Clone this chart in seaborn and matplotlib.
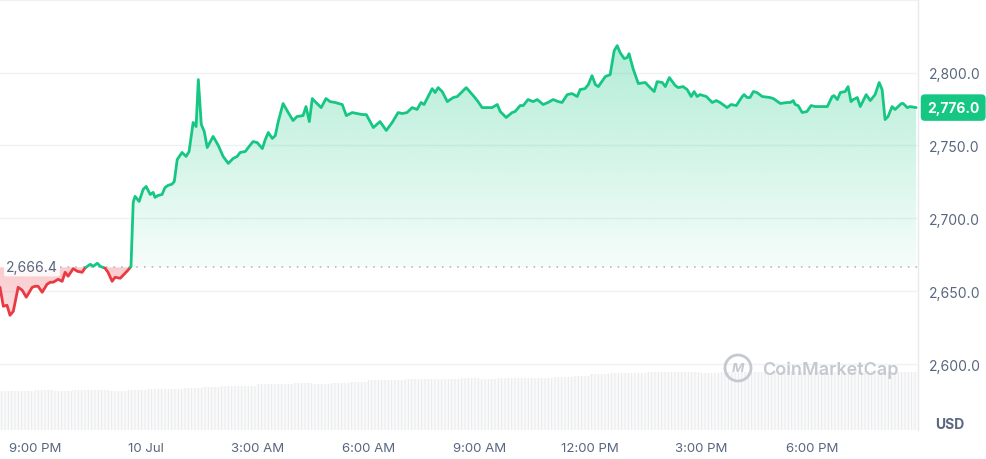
import matplotlib
matplotlib.use("Agg")
import matplotlib.pyplot as plt
import matplotlib.colors as mcolors
import numpy as np
import pandas as pd
import seaborn as sns
from matplotlib.patches import Circle
from matplotlib.path import Path
from matplotlib.transforms import IdentityTransform, blended_transform_factory

# hours since 9 Jul 00:00
hours = [
    20.05, 20.14, 20.24, 20.32, 20.41, 20.54, 20.65, 20.76, 20.92, 21.00,
    21.08, 21.19, 21.32, 21.41, 21.49, 21.62, 21.73, 21.81, 21.89, 22.03,
    22.14, 22.27, 22.35, 22.49, 22.57, 22.68, 22.76, 22.89, 22.97, 23.08,
    23.16, 23.30, 23.38, 23.51, 23.59, 23.65, 23.70, 23.81, 23.92, 24.00,
    24.11, 24.19, 24.24, 24.32, 24.43, 24.51, 24.59, 24.70, 24.76, 24.84,
    24.97, 25.08, 25.16, 25.27, 25.35, 25.41, 25.49, 25.57, 25.65, 25.81,
    25.95, 26.08, 26.22, 26.35, 26.46, 26.54, 26.68, 26.76, 26.89, 27.00,
    27.14, 27.22, 27.30, 27.41, 27.49, 27.57, 27.70, 27.84, 27.97, 28.08,
    28.24, 28.32, 28.41, 28.49, 28.59, 28.73, 28.86, 28.97, 29.11, 29.30,
    29.41, 29.57, 29.70, 29.84, 29.95, 30.14, 30.32, 30.49, 30.65, 30.81,
    30.92, 31.05, 31.19, 31.32, 31.43, 31.51, 31.73, 31.81, 31.89, 32.00,
    32.14, 32.30, 32.41, 32.65, 32.84, 32.95, 33.08, 33.24, 33.35, 33.49,
    33.57, 33.73, 33.89, 33.97, 34.11, 34.19, 34.32, 34.46, 34.57, 34.73,
    34.86, 35.00, 35.14, 35.24, 35.38, 35.51, 35.65, 35.73, 35.86, 35.95,
    36.05, 36.14, 36.22, 36.41, 36.54, 36.65, 36.73, 36.81, 36.92, 37.00,
    37.05, 37.16, 37.30, 37.49, 37.62, 37.73, 37.81, 37.95, 38.03, 38.14,
    38.30, 38.38, 38.51, 38.62, 38.73, 38.81, 38.89, 38.97, 39.14, 39.30,
    39.41, 39.51, 39.70, 39.81, 39.95, 40.11, 40.16, 40.24, 40.32, 40.41,
    40.51, 40.65, 40.86, 40.95, 41.14, 41.32, 41.41, 41.49, 41.54, 41.62,
    41.73, 41.86, 41.97, 42.08, 42.30, 42.41, 42.54, 42.59, 42.68, 42.76,
    42.89, 42.97, 43.05, 43.11, 43.22, 43.30, 43.46, 43.57, 43.70, 43.81,
    43.89, 43.97, 44.05, 44.16, 44.24, 44.41, 44.46, 44.57, 44.65, 44.81,
]
price = [
    2652.7, 2639.7, 2640.4, 2633.5, 2636.3, 2652.7, 2650.7, 2645.9, 2652.7, 2653.4,
    2653.4, 2649.3, 2654.8, 2656.2, 2656.2, 2658.2, 2656.8, 2663.0, 2660.3, 2665.5,
    2663.7, 2663.0, 2666.0, 2668.5, 2667.1, 2669.2, 2667.1, 2665.8, 2663.0, 2656.8,
    2659.6, 2658.9, 2661.0, 2664.5, 2667.0, 2711.0, 2715.1, 2711.6, 2719.9, 2721.9,
    2716.4, 2717.8, 2714.4, 2715.7, 2716.4, 2721.2, 2722.6, 2723.5, 2725.3, 2740.4,
    2745.2, 2742.5, 2745.9, 2765.8, 2763.0, 2795.2, 2764.4, 2759.6, 2748.6, 2756.2,
    2750.0, 2742.5, 2737.7, 2741.1, 2742.5, 2745.2, 2745.9, 2748.6, 2752.7, 2752.0,
    2747.9, 2754.1, 2758.9, 2754.8, 2756.8, 2766.4, 2778.8, 2772.6, 2767.1, 2769.9,
    2770.5, 2776.7, 2766.4, 2782.2, 2779.5, 2776.0, 2782.2, 2780.1, 2779.5, 2778.1,
    2770.5, 2772.6, 2771.9, 2771.2, 2771.2, 2762.3, 2766.4, 2760.3, 2765.8, 2772.6,
    2771.9, 2772.6, 2776.0, 2774.7, 2779.5, 2778.1, 2789.0, 2786.3, 2789.7, 2787.0,
    2780.1, 2782.9, 2783.6, 2789.7, 2784.2, 2780.8, 2776.0, 2776.0, 2776.0, 2778.1,
    2773.3, 2769.2, 2772.6, 2773.3, 2777.4, 2777.4, 2781.5, 2780.1, 2781.5, 2778.1,
    2779.5, 2781.5, 2780.1, 2779.5, 2784.9, 2785.6, 2783.6, 2788.4, 2789.0, 2791.8,
    2797.9, 2791.8, 2790.4, 2797.3, 2798.6, 2815.1, 2818.5, 2813.7, 2809.6, 2810.3,
    2813.0, 2802.7, 2792.5, 2793.2, 2789.7, 2787.0, 2793.8, 2793.2, 2790.4, 2796.6,
    2791.1, 2789.7, 2790.4, 2788.4, 2783.6, 2787.0, 2783.6, 2784.9, 2783.6, 2779.5,
    2780.8, 2779.5, 2776.0, 2778.1, 2777.4, 2783.6, 2784.9, 2782.9, 2782.9, 2787.0,
    2786.3, 2783.6, 2782.9, 2782.2, 2778.8, 2779.5, 2779.5, 2780.8, 2778.1, 2777.4,
    2772.6, 2773.3, 2777.4, 2776.7, 2776.7, 2776.7, 2783.6, 2784.2, 2781.5, 2786.3,
    2787.0, 2790.4, 2780.1, 2781.5, 2782.9, 2776.7, 2784.9, 2780.8, 2784.9, 2793.2,
    2788.4, 2767.8, 2769.9, 2776.7, 2774.7, 2778.8, 2778.8, 2776.0, 2776.7, 2776.0,
]
base_price = 2666.4
last_price = 2776.0

tick_hours = [21, 24, 27, 30, 33, 36, 39, 42]
tick_labels = ["9:00 PM", "10 Jul", "3:00 AM", "6:00 AM", "9:00 AM", "12:00 PM", "3:00 PM", "6:00 PM"]
price_ticks = [2600, 2650, 2700, 2750, 2800, 2850]

# half-hourly volume (relative units)
vol_hours = [
    20.0, 20.5, 21.0, 21.5, 22.0, 22.5, 23.0, 23.5, 24.0, 24.5,
    25.0, 25.5, 26.0, 26.5, 27.0, 27.5, 28.0, 28.5, 29.0, 29.5,
    30.0, 30.5, 31.0, 31.5, 32.0, 32.5, 33.0, 33.5, 34.0, 34.5,
    35.0, 35.5, 36.0, 36.5, 37.0, 37.5, 38.0, 38.5, 39.0, 39.5,
    40.0, 40.5, 41.0, 41.5, 42.0, 42.5, 43.0, 43.5, 44.0, 44.5,
]
volume = [
    39, 39, 40, 39, 40, 40, 39, 40, 41, 41,
    42, 43, 44, 44, 46, 46, 47, 46, 47, 48,
    50, 50, 51, 51, 51, 52, 51, 52, 52, 52,
    53, 54, 56, 57, 57, 58, 58, 58, 57, 58,
    58, 58, 59, 58, 58, 58, 59, 59, 58, 58,
]

GREEN = "#16c784"
RED = "#ea3943"
GREY = "#58667e"
GRID = "#eff2f5"


def split_at_base(t, p, base):
    # add the crossing points so every run above / below the base gets its own colour
    rows = []
    seg = 0
    side = "up" if p[0] >= base else "down"
    rows.append((t[0], p[0], seg, side))
    for i in range(1, len(t)):
        s = "up" if p[i] >= base else "down"
        if s != side:
            f = (base - p[i - 1]) / (p[i] - p[i - 1])
            tc = t[i - 1] + f * (t[i] - t[i - 1])
            rows.append((tc, base, seg, side))
            seg += 1
            side = s
            rows.append((tc, base, seg, side))
        rows.append((t[i], p[i], seg, side))
    return pd.DataFrame(rows, columns=["t", "price", "seg", "side"])


def gradient_fill(ax, t, p, base, where, color, a_base, a_far, far):
    poly = ax.fill_between(t, p, base, where=where, interpolate=True,
                           facecolor="none", edgecolor="none")
    path = Path.make_compound_path(*poly.get_paths())
    grad = np.zeros((256, 1, 4))
    grad[..., :3] = mcolors.to_rgb(color)
    lo, hi = min(base, far), max(base, far)
    a_lo, a_hi = (a_base, a_far) if base < far else (a_far, a_base)
    grad[:, 0, 3] = np.linspace(a_lo, a_hi, 256)
    im = ax.imshow(grad, extent=[t[0], t[-1], lo, hi], origin="lower",
                   aspect="auto", zorder=1, interpolation="bilinear")
    im.set_clip_path(path, transform=ax.transData)


sns.set_theme(style="white")
plt.rcParams["font.family"] = ["Inter", "DejaVu Sans"]
plt.rcParams["hatch.linewidth"] = 0.6

t = np.array(hours)
p = np.array(price)

fig = plt.figure(figsize=(9.86, 4.6), dpi=100)
ax = fig.add_axes([0, 29 / 460, 918 / 986, 431 / 460])

# volume strip at the bottom
ax2 = ax.twinx()
ax2.bar(vol_hours, volume, width=0.5, align="edge", facecolor="#fafafb",
        edgecolor="#e6e8eb", hatch="|||||", linewidth=0)
ax2.set_ylim(0, max(volume) / 0.137)
ax2.axis("off")

gradient_fill(ax, t, p, base_price, p >= base_price, GREEN, 0.04, 0.33, 2820)
gradient_fill(ax, t, p, base_price, p <= base_price, RED, 0.26, 0.16, 2630)

line_df = split_at_base(hours, price, base_price)
sns.lineplot(data=line_df, x="t", y="price", hue="side", units="seg", estimator=None,
             sort=False, palette={"up": GREEN, "down": RED}, legend=False,
             linewidth=2.0, ax=ax, zorder=3)

ax.axhline(base_price, xmin=60 / 918, color="#a7b1c2", lw=1.1, ls=(0, (1, 4)), zorder=2)
tr = blended_transform_factory(ax.transAxes, ax.transData)
ax.text(6 / 918, base_price, "2,666.4", transform=tr, ha="left", va="center",
        color=GREY, fontsize=10,
        bbox=dict(boxstyle="round,pad=0.15", fc="white", ec="none", alpha=0.85), zorder=4)

ax.text(1 + 9 / 918, last_price, "2,776.0", transform=tr, ha="left", va="center",
        color="white", fontsize=10, weight="bold", clip_on=False,
        bbox=dict(boxstyle="round,pad=0.45,rounding_size=0.3", fc=GREEN, ec="none"))

ax.set_xlim(20.05, 44.86)
ax.set_ylim(2554.8, 2850.5)
ax.set_xticks(tick_hours, tick_labels)
ax.yaxis.tick_right()
ax.set_yticks(price_ticks, [f"{v:,.1f}" if v < 2850 else "" for v in price_ticks])
ax.tick_params(axis="x", length=0, pad=9, labelcolor=GREY, labelsize=9.5)
ax.tick_params(axis="y", length=0, pad=8, labelcolor=GREY, labelsize=10)
ax.grid(axis="y", color=GRID, lw=1)
ax.grid(axis="x", visible=False)
ax.set_xlabel("")
ax.set_ylabel("")
for side in ["top", "left", "bottom"]:
    ax.spines[side].set_visible(False)
ax.spines["right"].set_color("#e6e9ee")
ax.spines["right"].set_linewidth(1)

fig.text(950 / 986, 1 - 425 / 460, "USD", ha="center", va="center",
         weight="bold", color=GREY, fontsize=10)

# watermark
wm = "#c5c9cf"
fig.add_artist(Circle((738, 460 - 369), 13, transform=IdentityTransform(),
                      fill=False, ec=wm, lw=2))
fig.text(738 / 986, 1 - 369 / 460, "M", ha="center", va="center", color=wm,
         fontsize=9.5, weight="bold", style="italic")
fig.text(762 / 986, 1 - 370 / 460, "CoinMarketCap", ha="left", va="center",
         color=wm, fontsize=13, weight="semibold")

fig.savefig("out.png", dpi=100)
plt.close(fig)
